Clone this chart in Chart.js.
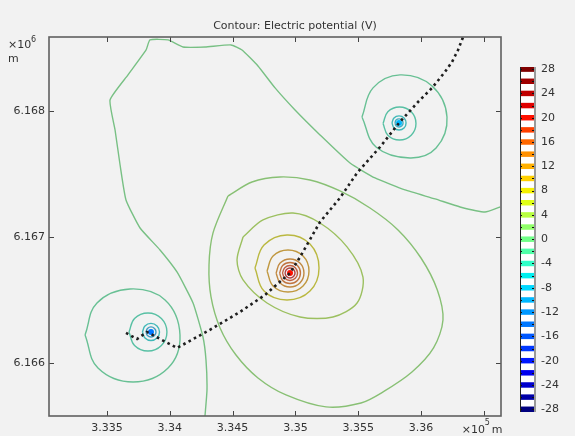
<!DOCTYPE html>
<html>
<head>
<meta charset="utf-8">
<script src="https://cdn.jsdelivr.net/npm/chart.js@4.4.1/dist/chart.umd.min.js"></script>
<style>
  html, body { margin: 0; padding: 0; background: #f2f2f2; }
  #wrap { position: relative; width: 575px; height: 436px; }
  #plot { position: absolute; left: 0; top: 0; }
  #bar { position: absolute; left: 505px; top: 50px; }
</style>
</head>
<body>
<div id="wrap">
  <canvas id="plot" width="575" height="436"></canvas>
  <canvas id="bar" width="70" height="380"></canvas>
</div>
<script>
// contour levels (V) and their colours in the colour bar
const barLevels = [28, 26, 24, 22, 20, 18, 16, 14, 12, 10, 8, 6, 4, 2, 0,
  -2, -4, -6, -8, -10, -12, -14, -16, -18, -20, -22, -24, -26, -28];
const barColors = ['#800000', '#a00000', '#c00000', '#e00000', '#ff1000', '#ff4000',
  '#ff6800', '#ff9000', '#ffb000', '#ffd000', '#f4f000', '#e0ff18', '#b8ff40', '#90ff68',
  '#70ff88', '#50ffa8', '#30ffc8', '#00f0f0', '#00d8ff', '#00b8ff', '#0098ff', '#0078ff',
  '#0058ff', '#0038ff', '#0018ff', '#0000ee', '#0000cc', '#0000a8', '#00007f'];
const barTicks = [28, 24, 20, 16, 12, 8, 4, 0, -4, -8, -12, -16, -20, -24, -28];

// axes (metres)
const xTicks = [333500, 334000, 334500, 335000, 335500, 336000, 336500];
const xTickLabels = ['3.335', '3.34', '3.345', '3.35', '3.355', '3.36', ''];
const yTicks = [6166000, 6167000, 6168000];
const yTickLabels = ['6.166', '6.167', '6.168'];

// electrodes: easting, northing (m) and potential (V)
const sourceX = [334957, 333850, 335825];
const sourceY = [6166714, 6166246, 6167905];
const sourceV = [20, -14, -10];

// 0 V contour, open line from the bottom edge to the right edge
const zeroLine = [[334280,6165579],[334296,6165786],[334288,6166024],[334264,6166206],
  [334185,6166476],[334057,6166722],[333922,6166897],[333763,6167071],[333651,6167294],
  [333604,6167571],[333564,6167849],[333524,6168087],[333667,6168286],[333811,6168484],
  [333842,6168564],[333986,6168564],[334105,6168508],[334280,6168508],[334487,6168524],
  [334575,6168484],[334702,6168357],[334838,6168183],[334997,6168008],[335196,6167810],
  [335435,6167587],[335634,6167468],[335873,6167373],[336112,6167302],[336311,6167238],
  [336510,6167198],[336629,6167238]];

// closed contours round the positive electrode
const centreLevels = [2, 4, 8, 12, 14, 16, 18, 22];
const centreRings = [
  [[334463,6167325],[334654,6167436],[334877,6167476],[335116,6167452],[335355,6167365],
   [335594,6167230],[335817,6167056],[336000,6166833],[336130,6166579],[336175,6166341],
   [336100,6166119],[335928,6165928],[335698,6165770],[335522,6165682],[335244,6165651],
   [334925,6165746],[334702,6165881],[334527,6166063],[334400,6166278],[334328,6166524],
   [334312,6166778],[334344,6167032],[334463,6167325]],
  [[334583,6167000],[334742,6167135],[334981,6167190],[335196,6167111],[335411,6166921],
   [335538,6166682],[335491,6166476],[335299,6166365],[335037,6166365],[334774,6166476],
   [334583,6166659],[334535,6166817],[334583,6167000]],
  [[334678,6166754],[334750,6166936],[334933,6167016],[335116,6166944],[335188,6166754],
   [335116,6166571],[334933,6166500],[334750,6166571],[334678,6166754]],
  [[334774,6166730],[334822,6166849],[334941,6166897],[335061,6166849],[335108,6166730],
   [335061,6166611],[334941,6166563],[334822,6166611],[334774,6166730]],
  [[334846,6166714],[334878,6166793],[334957,6166825],[335036,6166793],[335068,6166714],
   [335036,6166635],[334957,6166603],[334878,6166635],[334846,6166714]],
  [[334874,6166714],[334898,6166773],[334957,6166797],[335016,6166773],[335040,6166714],
   [335016,6166655],[334957,6166631],[334898,6166655],[334874,6166714]],
  [[334897,6166714],[334915,6166756],[334957,6166774],[334999,6166756],[335017,6166714],
   [334999,6166672],[334957,6166654],[334915,6166672],[334897,6166714]],
  [[334917,6166714],[334929,6166742],[334957,6166754],[334985,6166742],[334997,6166714],
   [334985,6166686],[334957,6166674],[334929,6166686],[334917,6166714]]
];

// closed contours round the south-west electrode
const westLevels = [-2, -4, -6, -10];
const westRings = [
  [[333325,6166222],[333420,6166476],[333683,6166587],[333962,6166500],[334081,6166222],
   [333986,6165960],[333707,6165849],[333428,6165960],[333325,6166222]],
  [[333675,6166246],[333719,6166353],[333826,6166397],[333933,6166353],[333977,6166246],
   [333933,6166139],[333826,6166095],[333719,6166139],[333675,6166246]],
  [[333782,6166246],[333802,6166294],[333850,6166314],[333898,6166294],[333918,6166246],
   [333898,6166198],[333850,6166178],[333802,6166198],[333782,6166246]],
  [[333810,6166246],[333822,6166274],[333850,6166286],[333878,6166274],[333890,6166246],
   [333878,6166218],[333850,6166206],[333822,6166218],[333810,6166246]]
];

// closed contours round the north-east electrode
const northLevels = [-2, -4, -6, -8];
const northRings = [
  [[335530,6167952],[335618,6168183],[335833,6168286],[336088,6168198],[336207,6167952],
   [336120,6167706],[335913,6167627],[335642,6167714],[335530,6167952]],
  [[335698,6167901],[335736,6167994],[335829,6168032],[335922,6167994],[335960,6167901],
   [335922,6167808],[335829,6167770],[335736,6167808],[335698,6167901]],
  [[335769,6167905],[335785,6167945],[335825,6167961],[335865,6167945],[335881,6167905],
   [335865,6167865],[335825,6167849],[335785,6167865],[335769,6167905]],
  [[335793,6167905],[335802,6167928],[335825,6167937],[335848,6167928],[335857,6167905],
   [335848,6167882],[335825,6167873],[335802,6167882],[335793,6167905]]
];

// survey profile through the electrodes
const profile = [[333651,6166238],[333739,6166190],[333818,6166246],[334057,6166119],
  [334304,6166254],[334559,6166405],[334758,6166540],[334957,6166714],[335037,6166841],
  [335196,6167119],[335355,6167310],[335491,6167508],[335674,6167714],[335825,6167905],
  [335976,6168071],[336088,6168183],[336191,6168310],[336247,6168389],[336295,6168484],
  [336335,6168587]];

Chart.defaults.font.family = '"DejaVu Sans", sans-serif';
Chart.defaults.font.size = 11;
Chart.defaults.color = '#333';

function levelColour(v) {
  return barColors[barLevels.indexOf(v)];
}

// contour strokes are duller than the bar colours
function lineColour(v) {
  const c = levelColour(v);
  const mix = i => Math.round(parseInt(c.slice(i, i + 2), 16) * 0.5 + 0x80 * 0.5);
  return 'rgb(' + mix(1) + ',' + mix(3) + ',' + mix(5) + ')';
}

const pts = path => path.map(p => ({ x: p[0], y: p[1] }));

function contour(path, level, tension) {
  return {
    data: pts(path),
    showLine: true,
    borderColor: lineColour(level),
    borderWidth: 1.4,
    pointRadius: 0,
    tension: tension,
    order: 2
  };
}

const datasets = [];
datasets.push({
  data: pts(profile),
  showLine: true,
  borderColor: '#1e1e1e',
  borderWidth: 2.6,
  borderDash: [2.6, 3.4],
  borderCapStyle: 'butt',
  pointRadius: 0,
  tension: 0,
  order: 0
});
datasets.push({
  data: sourceX.map((x, i) => ({ x: x, y: sourceY[i] })),
  showLine: false,
  pointRadius: 3,
  pointBorderWidth: 0,
  pointBackgroundColor: sourceV.map(levelColour),
  order: 1
});
datasets.push(contour(zeroLine, 0, 0.15));
centreRings.forEach((r, i) => datasets.push(contour(r, centreLevels[i], i < 2 ? 0.3 : 0.4)));
westRings.forEach((r, i) => datasets.push(contour(r, westLevels[i], 0.4)));
northRings.forEach((r, i) => datasets.push(contour(r, northLevels[i], 0.4)));

// frame, inward ticks, exponent labels and title
const decorations = {
  id: 'decorations',
  afterDatasetsDraw(chart) {
    const { ctx, chartArea: a, scales: { x, y } } = chart;
    ctx.save();
    ctx.strokeStyle = '#444';
    ctx.lineWidth = 1;
    ctx.beginPath();
    x.ticks.forEach(t => {
      const px = Math.round(x.getPixelForValue(t.value)) + 0.5;
      ctx.moveTo(px, a.bottom); ctx.lineTo(px, a.bottom - 5);
      ctx.moveTo(px, a.top); ctx.lineTo(px, a.top + 5);
    });
    y.ticks.forEach(t => {
      const py = Math.round(y.getPixelForValue(t.value)) + 0.5;
      ctx.moveTo(a.left, py); ctx.lineTo(a.left + 5, py);
      ctx.moveTo(a.right, py); ctx.lineTo(a.right - 5, py);
    });
    ctx.stroke();
    ctx.strokeStyle = '#606060';
    ctx.lineWidth = 1.6;
    ctx.strokeRect(a.left, a.top, a.right - a.left, a.bottom - a.top);

    ctx.fillStyle = '#333';
    ctx.textBaseline = 'alphabetic';
    ctx.textAlign = 'center';
    ctx.font = '11px "DejaVu Sans"';
    ctx.fillText('Contour: Electric potential (V)', 295, 29);

    ctx.textAlign = 'left';
    const ex = x.getPixelForValue(xTicks[xTicks.length - 1]) - 22;
    ctx.fillText('\u00d710', ex, 433);
    ctx.fillText('m', ex + 30, 433);
    ctx.fillText('\u00d710', 8, 48);
    ctx.fillText('m', 8, 62);
    ctx.font = '8px "DejaVu Sans"';
    ctx.fillText('5', ex + 23, 425);
    ctx.fillText('6', 31, 42);
    ctx.restore();
  }
};

new Chart(document.getElementById('plot'), {
  type: 'scatter',
  data: { datasets: datasets },
  options: {
    responsive: false,
    animation: false,
    events: [],
    layout: { padding: { top: 37, right: 74, left: 0, bottom: 0 } },
    plugins: { legend: { display: false }, tooltip: { enabled: false } },
    scales: {
      x: {
        type: 'linear',
        min: 333038,
        max: 336637,
        afterBuildTicks: s => { s.ticks = xTicks.map(v => ({ value: v })); },
        afterFit: s => { s.height = 20; },
        ticks: { padding: 6, maxRotation: 0, autoSkip: false,
          callback: (v, i) => xTickLabels[i] },
        grid: { display: false, drawTicks: false },
        border: { display: false }
      },
      y: {
        type: 'linear',
        min: 6165579,
        max: 6168587,
        afterBuildTicks: s => { s.ticks = yTicks.map(v => ({ value: v })); },
        afterFit: s => { s.width = 49; },
        ticks: { padding: 4, autoSkip: false, callback: (v, i) => yTickLabels[i] },
        grid: { display: false, drawTicks: false },
        border: { display: false }
      }
    }
  },
  plugins: [decorations]
});

// colour bar: white strip with one band per contour level
const barFrame = {
  id: 'barFrame',
  beforeDatasetsDraw(chart) {
    const { ctx, chartArea: a } = chart;
    ctx.save();
    ctx.fillStyle = '#ffffff';
    ctx.fillRect(a.left, a.top, a.right - a.left, a.bottom - a.top);
    ctx.restore();
  },
  afterDatasetsDraw(chart) {
    const { ctx, chartArea: a, scales: { y } } = chart;
    ctx.save();
    ctx.strokeStyle = '#111';
    ctx.lineWidth = 1;
    ctx.beginPath();
    barLevels.forEach(v => {
      const py = Math.round(y.getPixelForValue(v)) + 0.5;
      ctx.moveTo(a.left, py); ctx.lineTo(a.left + 2, py);
      ctx.moveTo(a.right, py); ctx.lineTo(a.right - 2, py);
    });
    ctx.stroke();
    ctx.strokeStyle = '#222';
    ctx.beginPath();
    ctx.moveTo(a.left + 0.5, a.top); ctx.lineTo(a.left + 0.5, a.bottom);
    ctx.stroke();
    ctx.strokeStyle = '#999';
    ctx.lineWidth = 2;
    ctx.beginPath();
    ctx.moveTo(a.right + 1, a.top); ctx.lineTo(a.right + 1, a.bottom);
    ctx.stroke();
    ctx.restore();
  }
};

new Chart(document.getElementById('bar'), {
  type: 'bar',
  data: {
    datasets: [{
      data: barLevels.map(v => ({ y: v, x: [0, 1] })),
      backgroundColor: barColors,
      barPercentage: 0.45,
      categoryPercentage: 1,
      borderWidth: 0
    }]
  },
  options: {
    indexAxis: 'y',
    responsive: false,
    animation: false,
    events: [],
    layout: { padding: { left: 15, top: 17, bottom: 18, right: 0 } },
    plugins: { legend: { display: false }, tooltip: { enabled: false } },
    scales: {
      x: { type: 'linear', display: false, min: 0, max: 1 },
      y: {
        type: 'linear',
        position: 'right',
        offset: false,
        min: -28.45,
        max: 28.35,
        afterBuildTicks: s => { s.ticks = barTicks.map(v => ({ value: v })); },
        afterFit: s => { s.width = 41; },
        ticks: { padding: 7, autoSkip: false },
        grid: { display: false, drawTicks: false },
        border: { display: false }
      }
    }
  },
  plugins: [barFrame]
});
</script>
</body>
</html>
